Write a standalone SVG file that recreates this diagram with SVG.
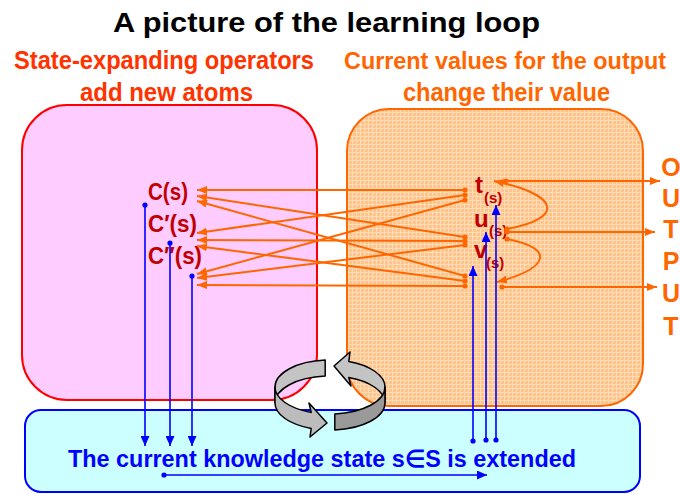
<svg xmlns="http://www.w3.org/2000/svg" width="680" height="494" viewBox="0 0 680 494">
<style>
.t{font-family:"Liberation Sans Narrow","Liberation Sans",Arial,sans-serif;font-weight:bold}
.or{stroke:#ff6600;stroke-width:2;fill:none}
.bl{stroke:#0000ff;stroke-width:1.6;fill:none}
.ring{stroke:#000;stroke-width:1.5;stroke-linejoin:round}
.lab{fill:#c00000}
</style>
<defs>
<pattern id="dots" width="4" height="4" patternUnits="userSpaceOnUse">
<rect width="4" height="4" fill="#ffc48c"/>
<rect width="4" height="1" fill="#ffdcb8"/>
<rect width="1" height="4" fill="#ffdcb8"/>
</pattern>
<marker id="ao" markerUnits="userSpaceOnUse" markerWidth="10" markerHeight="8" refX="10" refY="4" orient="auto"><path d="M0,0 L10,4 L0,8 z" fill="#ff6600"/></marker>
<marker id="ab" markerUnits="userSpaceOnUse" markerWidth="10" markerHeight="9" refX="10" refY="4.5" orient="auto"><path d="M0,0 L10,4.5 L0,9 z" fill="#0000ff"/></marker>
<marker id="do" markerUnits="userSpaceOnUse" markerWidth="6" markerHeight="6" refX="3" refY="3"><circle cx="3" cy="3" r="2.6" fill="#ff6600"/></marker>
<marker id="db" markerUnits="userSpaceOnUse" markerWidth="6" markerHeight="6" refX="3" refY="3"><circle cx="3" cy="3" r="2.6" fill="#0000ff"/></marker>
</defs>
<rect width="680" height="494" fill="#fff"/>
<g id="title">
<text class="t" x="113" y="32" font-size="28" fill="#000" textLength="427" lengthAdjust="spacingAndGlyphs">A picture of the learning loop</text>
<text class="t" x="14" y="69" font-size="25" fill="#ff3300" textLength="300" lengthAdjust="spacingAndGlyphs">State-expanding operators</text>
<text class="t" x="80" y="101" font-size="25" fill="#ff3300" textLength="173" lengthAdjust="spacingAndGlyphs">add new atoms</text>
<text class="t" x="344" y="69" font-size="23.5" fill="#ff6600" textLength="322" lengthAdjust="spacingAndGlyphs">Current values for the output</text>
<text class="t" x="403" y="101" font-size="25" fill="#ff6600" textLength="207" lengthAdjust="spacingAndGlyphs">change their value</text>
</g>
<g id="operators-box"><rect x="22" y="105" width="295" height="295" rx="45" fill="#ffccff" stroke="#ff0000" stroke-width="2"/></g>
<g id="values-box"><rect x="347" y="109" width="296" height="297" rx="42" fill="url(#dots)" stroke="#ff6600" stroke-width="2"/></g>
<g id="state-box">
<rect x="25" y="410" width="615" height="82" rx="16" fill="#ccffff" stroke="#0000ff" stroke-width="2"/>
<text class="t" x="68" y="467" font-size="24" fill="#0000ff" textLength="508" lengthAdjust="spacingAndGlyphs">The current knowledge state s∈S is extended</text>
</g>
<g id="output">
<g class="t" font-size="25" fill="#ff6600" text-anchor="middle">
<text x="671" y="176">O</text><text x="671" y="207">U</text><text x="671" y="238">T</text><text x="671" y="270">P</text><text x="671" y="302">U</text><text x="671" y="335">T</text>
</g>
</g>
<g id="node-C"><text class="t lab" x="148" y="200" font-size="23" textLength="40" lengthAdjust="spacingAndGlyphs">C(s)</text></g>
<g id="node-C1"><text class="t lab" x="148" y="232" font-size="23" textLength="49" lengthAdjust="spacingAndGlyphs">C′(s)</text></g>
<g id="node-C2"><text class="t lab" x="148" y="264" font-size="23" textLength="54" lengthAdjust="spacingAndGlyphs">C″(s)</text></g>
<g id="node-t"><text class="t lab" font-size="24"><tspan x="475" y="193">t</tspan><tspan x="484" y="203" font-size="15">(s)</tspan></text></g>
<g id="node-u"><text class="t lab" font-size="24"><tspan x="474" y="227">u</tspan><tspan x="489" y="236" font-size="15">(s)</tspan></text></g>
<g id="node-v"><text class="t lab" font-size="24"><tspan x="474" y="258">v</tspan><tspan x="486" y="268" font-size="15">(s)</tspan></text></g>
<g id="connectors">
<g class="or" marker-start="url(#do)" marker-end="url(#ao)">
<path d="M465,190 L197,190"/>
<path d="M465,195 L197,233"/>
<path d="M465,200 L197,274"/>
<path d="M465,237 L197,196"/>
<path d="M465,241 L197,240"/>
<path d="M465,245 L197,278"/>
<path d="M465,276 L197,201"/>
<path d="M465,281 L197,246"/>
<path d="M465,286 L197,285"/>
<path d="M506,181 L660,181"/>
<path d="M507,232 L655,232"/>
<path d="M502,287 L657,287"/>
<path d="M507,229 C565,218 560,195 494,181"/>
<path d="M507,239 C555,248 550,268 497,282"/>
</g>
<g class="bl" marker-start="url(#db)" marker-end="url(#ab)">
<path d="M145,205 L145,446"/>
<path d="M170,243 L170,446"/>
<path d="M192,276 L192,446"/>
<path d="M473,441 L473,266"/>
<path d="M486,440 L486,232"/>
<path d="M496,440 L496,205"/>
<path d="M164,475 L487,475"/>
</g>
</g>
<g id="cycle">
<path class="ring" fill="#c4c4c4" d="M325.2,360.1 A55,27 0 0 0 275,387 L275,403 A55,27 0 0 1 325.2,376.1 Z"/>
<path class="ring" fill="#c4c4c4" d="M385,387 A55,27 0 0 0 348.8,361.6 L350,352 L334,366 L351,386 L348.8,377.6 A55,27 0 0 1 385,403 Z"/>
<path class="ring" fill="#bcbcbc" d="M275,387 A55,27 0 0 0 311.2,412.4 L309,403 L327,423 L310,437 L311.2,428.4 A55,27 0 0 1 275,403 Z"/>
<path class="ring" fill="#9a9a9a" d="M334.8,413.9 A55,27 0 0 0 385,387 L385,403 A55,27 0 0 1 334.8,429.9 Z"/>
</g>
</svg>
